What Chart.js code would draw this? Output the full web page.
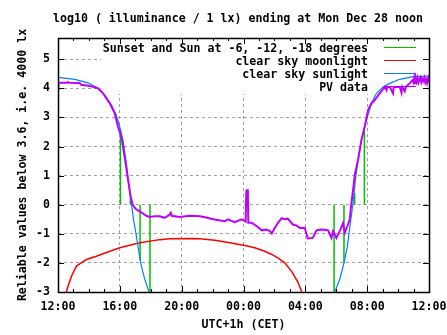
<!DOCTYPE html>
<html>
<head>
<meta charset="utf-8">
<script src="https://cdn.jsdelivr.net/npm/chart.js@4"></script>
<style>
  body { margin: 0; background: #fff; }
  canvas { display: block; }
</style>
</head>
<body>
<canvas id="lux" width="447" height="335"></canvas>
<script>
// x in hours after 12:00 (noon) of the previous day
const tickHours = [0, 4, 8, 12, 16, 20, 24];
const tickLabels = ["12:00", "16:00", "20:00", "00:00", "04:00", "08:00", "12:00"];
const yTicks = [-3, -2, -1, 0, 1, 2, 3, 4, 5];

// clear sky sunlight
const sunHours = [0, 1.08, 1.94, 2.59, 3.02, 3.45, 3.77, 3.99, 4.2, 4.42, 4.59, 4.74, 4.89, 5.07, 5.24, 5.39, 5.61, 5.89, 6.1,
                  17.7, 17.9, 18.23, 18.5, 18.72, 18.94, 19.09, 19.24, 19.41, 19.63, 19.89, 20.28, 20.6, 21.03, 21.46, 22.1, 22.97, 24];
const sunValues = [4.38, 4.31, 4.19, 4.0, 3.77, 3.43, 3.08, 2.68, 2.23, 1.45, 0.63, 0.06, -0.51, -1.08, -1.65, -2.1, -2.56, -3.0, -3.4,
                   -3.4, -3.0, -2.56, -2.0, -1.43, -0.51, 0.06, 0.86, 1.54, 2.23, 2.8, 3.49, 3.83, 4.05, 4.17, 4.31, 4.4, 4.42];

// clear sky moonlight
const moonHours = [0.4, 0.54, 0.65, 0.87, 1.19, 1.84, 2.48, 3.35, 3.99, 5.29, 6.58, 7.23, 8.73, 9.17, 10.14, 11.11, 12.08, 12.73, 13.37, 13.83, 14.22, 14.67, 15.12, 15.51, 15.77, 15.9];
const moonValues = [-3.4, -3.0, -2.8, -2.46, -2.11, -1.88, -1.77, -1.6, -1.48, -1.31, -1.2, -1.17, -1.16, -1.17, -1.22, -1.31, -1.4, -1.48, -1.6, -1.71, -1.83, -2.0, -2.3, -2.65, -3.0, -3.3];

// Sunset / sunrise and Sun at -6, -12, -18 degrees
const twilightHours = [4.04, 4.68, 5.31, 5.95, 17.86, 18.5, 19.19, 19.82];
const twilightTops = [2.6, 0.23, -1.9, -3.3, -3.3, -2.0, 0.4, 2.6];

// PV data
const pvHours = [0, 0.02, 0.6, 0.65, 0.75, 1.4, 1.5, 1.94, 2.2, 2.59, 2.91, 3.34, 3.67, 3.88, 4.1, 4.32, 4.53, 4.7, 4.83, 5.03, 5.29, 5.72,
                 5.93, 6.26, 6.58, 6.9, 7.23, 7.3, 7.36, 7.87, 8.52, 9.17, 9.5, 10.14, 10.79, 10.98, 11.43, 11.88, 12.14, 12.18, 12.21,
                 12.28, 12.31, 12.34, 12.53, 12.86, 13.18, 13.44, 13.7, 13.83, 14.02, 14.22, 14.47, 14.67, 14.86, 15.19, 15.45, 15.64,
                 15.96, 16.16, 16.48, 16.72, 17.0, 17.26, 17.47, 17.69, 17.79, 18.01, 18.23, 18.44, 18.55, 18.76, 18.87, 18.98, 19.09,
                 19.2, 19.41, 19.63, 19.84, 20.06, 20.28, 20.49, 20.81, 21.14, 21.25, 21.3, 21.46, 21.67, 21.72, 22.11, 22.22, 22.27,
                 22.43, 22.5, 22.75, 22.94, 23.0, 23.05, 23.1, 23.15, 23.2, 23.26, 23.32, 23.38, 23.45, 23.5, 23.56, 23.62, 23.7,
                 23.76, 23.82, 23.88, 23.95, 24];
const pvValues = [3.94, 4.19, 4.19, 4.22, 4.19, 4.18, 4.12, 4.09, 4.06, 4.0, 3.83, 3.49, 3.14, 2.68, 2.34, 1.6, 0.86, 0.28, 0.0, -0.15, -0.23, -0.38,
                  -0.42, -0.4, -0.4, -0.45, -0.34, -0.28, -0.38, -0.42, -0.38, -0.4, -0.43, -0.51, -0.57, -0.5, -0.6, -0.5, -0.58, 0.45, 0.5,
                  0.5, -0.62, -0.62, -0.62, -0.74, -0.88, -0.85, -0.9, -0.99, -0.8, -0.63, -0.46, -0.5, -0.48, -0.68, -0.72, -0.8,
                  -0.79, -1.16, -1.14, -0.88, -0.85, -0.86, -0.88, -1.14, -0.91, -1.14, -0.9, -0.63, -0.97, -0.68, -0.51, 0.06, 0.51,
                  1.03, 1.54, 2.23, 2.68, 3.26, 3.49, 3.6, 3.83, 4.05, 3.94, 4.05, 4.05, 3.83, 4.05, 4.05, 3.85, 4.05,
                  3.9, 4.05, 4.17, 4.28, 4.2, 4.35, 4.18, 4.32, 4.22, 4.36, 4.2, 4.3, 4.38, 4.22, 4.33, 4.25, 4.37,
                  4.2, 4.3, 4.18, 4.34, 4.2];

const titleText = "log10 ( illuminance / 1 lx) ending at Mon Dec 28 noon";

const FONT = "DejaVu Sans Mono";
Chart.defaults.font.family = FONT;
Chart.defaults.font.size = 11.6;
Chart.defaults.font.weight = "bold";
Chart.defaults.color = "#000";

function pairs(xs, ys) {
    return xs.map((x, i) => ({ x: x, y: ys[i] }));
}

// vertical impulses from 0 to the sun curve, separated by gaps
function impulses(xs, tops) {
    const out = [];
    xs.forEach((x, i) => {
        out.push({ x: x, y: 0 }, { x: x, y: tops[i] }, { x: x, y: null });
    });
    return out;
}

const legendItems = [
    { text: "Sunset and Sun at -6, -12, -18 degrees", color: "#00c000" },
    { text: "clear sky moonlight", color: "#ff0000" },
    { text: "clear sky sunlight", color: "#0080ff" },
    { text: "PV data", color: "#c000ff" }
];

// gnuplot style key: white box over the grid, text right aligned, sample on the right
const keyPlugin = {
    id: "gnuKey",
    beforeDatasetsDraw(chart) {
        const ctx = chart.ctx;
        const area = chart.chartArea;
        ctx.save();
        ctx.fillStyle = "#fff";
        ctx.fillRect(101, area.top + 1, 320, 55);
        ctx.font = "bold 11.6px " + FONT;
        ctx.textAlign = "right";
        ctx.textBaseline = "middle";
        legendItems.forEach((item, i) => {
            const y = 47.5 + i * 13;
            ctx.fillStyle = "#000";
            ctx.fillText(item.text, 368, y + 1);
            ctx.strokeStyle = item.color;
            ctx.lineWidth = 1;
            ctx.beginPath();
            ctx.moveTo(384, y);
            ctx.lineTo(416, y);
            ctx.stroke();
        });
        ctx.restore();
    }
};

// title, border with inward ticks on all sides
const borderPlugin = {
    id: "gnuBorder",
    afterDraw(chart) {
        const ctx = chart.ctx;
        const a = chart.chartArea;
        const xs = chart.scales.x;
        const ys = chart.scales.y;
        ctx.save();
        ctx.fillStyle = "#000";
        ctx.font = "bold 11.6px " + FONT;
        ctx.textAlign = "center";
        ctx.textBaseline = "middle";
        ctx.fillText(titleText, 238, 19);

        ctx.strokeStyle = "#000";
        ctx.lineWidth = 1;
        ctx.beginPath();
        for (let h = 0; h <= 24; h++) {
            const px = Math.round(xs.getPixelForValue(h)) + 0.5;
            const len = h % 4 === 0 ? 6 : 3;
            ctx.moveTo(px, a.bottom);
            ctx.lineTo(px, a.bottom - len);
            ctx.moveTo(px, a.top);
            ctx.lineTo(px, a.top + len);
        }
        yTicks.forEach(v => {
            const py = Math.round(ys.getPixelForValue(v)) + 0.5;
            ctx.moveTo(a.left, py);
            ctx.lineTo(a.left + 6, py);
            ctx.moveTo(a.right, py);
            ctx.lineTo(a.right - 6, py);
        });
        ctx.stroke();
        ctx.lineWidth = 1.5;
        ctx.strokeRect(Math.round(a.left) + 0.5, Math.round(a.top) + 0.5,
            Math.round(a.right - a.left), Math.round(a.bottom - a.top));
        ctx.restore();
    }
};

new Chart(document.getElementById("lux").getContext("2d"), {
    type: "line",
    data: {
        datasets: [
            {
                label: "PV data",
                data: pairs(pvHours, pvValues),
                borderColor: "#c000ff",
                borderWidth: 2,
                order: 1
            },
            {
                label: "clear sky sunlight",
                data: pairs(sunHours, sunValues),
                borderColor: "#0080ff",
                borderWidth: 1.2,
                order: 2
            },
            {
                label: "clear sky moonlight",
                data: pairs(moonHours, moonValues),
                borderColor: "#ff0000",
                borderWidth: 1.5,
                order: 3
            },
            {
                label: "Sunset and Sun at -6, -12, -18 degrees",
                data: impulses(twilightHours, twilightTops),
                borderColor: "#00c000",
                borderWidth: 1.5,
                spanGaps: false,
                order: 4
            }
        ]
    },
    options: {
        responsive: false,
        animation: false,
        devicePixelRatio: 1,
        layout: { padding: { right: 18, left: 0, top: 38, bottom: 0 } },
        elements: {
            point: { radius: 0 },
            line: { tension: 0, borderCapStyle: "butt" }
        },
        plugins: {
            legend: { display: false },
            tooltip: { enabled: false },
            title: { display: false }
        },
        scales: {
            x: {
                type: "linear",
                min: 0,
                max: 24,
                afterBuildTicks: axis => { axis.ticks = tickHours.map(v => ({ value: v })); },
                afterFit: axis => {
                    axis.height = 43;
                    axis.paddingLeft = 0;
                    axis.paddingRight = 0;
                },
                ticks: {
                    autoSkip: false,
                    maxRotation: 0,
                    padding: 8,
                    callback: (v, i) => tickLabels[i]
                },
                grid: { color: "#a0a0a0", lineWidth: 1, drawTicks: false },
                border: { display: false, dash: [3, 3] },
                title: {
                    display: true,
                    text: "UTC+1h (CET)",
                    padding: { top: 0, bottom: 3 }
                }
            },
            y: {
                type: "linear",
                min: -3,
                max: 5.73,
                afterBuildTicks: axis => { axis.ticks = yTicks.map(v => ({ value: v })); },
                afterFit: axis => {
                    axis.width = 58;
                    axis.paddingTop = 0;
                    axis.paddingBottom = 0;
                },
                ticks: { padding: 8, callback: v => String(v) },
                grid: { color: "#a0a0a0", lineWidth: 1, drawTicks: false },
                border: { display: false, dash: [3, 3] },
                title: {
                    display: true,
                    text: "Reliable values below 3.6, i.e. 4000 lx",
                    padding: { top: 16, bottom: 0 }
                }
            }
        }
    },
    plugins: [keyPlugin, borderPlugin]
});
</script>
</body>
</html>
